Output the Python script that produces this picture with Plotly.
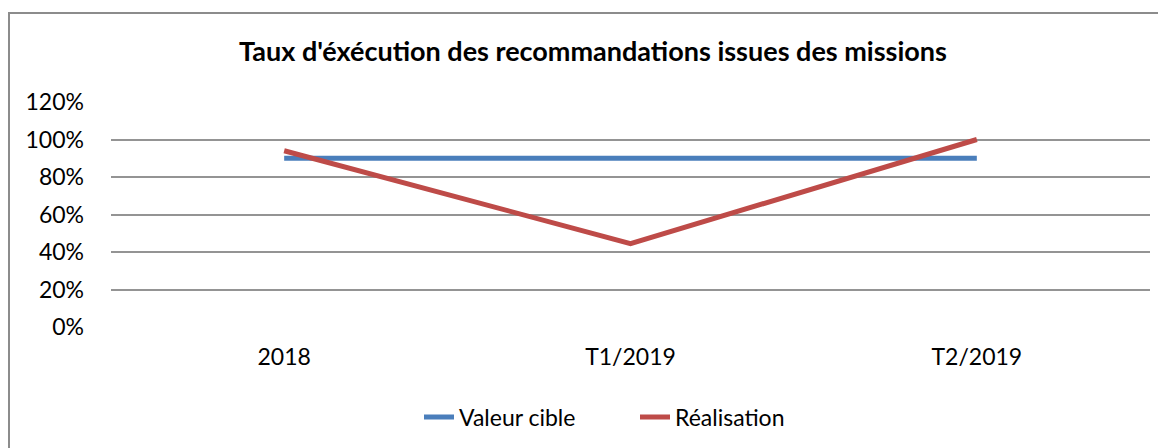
import plotly.graph_objects as go

categories = ["2018", "T1/2019", "T2/2019"]
valeur_cible = [0.90, 0.90, 0.90]
realisation = [0.94, 0.445, 1.00]
y_ticks = [0, 0.2, 0.4, 0.6, 0.8, 1.0, 1.2]
y_tick_labels = ["0%", "20%", "40%", "60%", "80%", "100%", "120%"]

FONT = "Lato, 'Open Sans', sans-serif"
OFF = 8  # page body margin
W, H = 1166, 448
# desired page-pixel positions from reference
PL, PR, PT, PB = 111, 1150, 102, 327
L = PL - OFF
T = PT - OFF
R = W - (PR - OFF)
B = H - (PB - OFF)
PW, PH = W - L - R, H - T - B


def px_x(p):
    return (p - OFF - L) / PW


def px_y(p):
    return (PB - p) / PH


fig = go.Figure()
fig.add_trace(go.Scatter(x=categories, y=valeur_cible, name="Valeur cible", mode="lines",
                         line=dict(color="#4a7ebb", width=5)))
fig.add_trace(go.Scatter(x=categories, y=realisation, name="Réalisation", mode="lines",
                         line=dict(color="#be4b48", width=5)))

# chart border (top and left visible)
fig.add_shape(type="rect", xref="paper", yref="paper",
              x0=px_x(9), x1=px_x(1200), y0=px_y(480), y1=px_y(13),
              line=dict(color="#8c8c8c", width=2), fillcolor="rgba(0,0,0,0)", layer="below")

fig.update_layout(
    width=W, height=H,
    margin=dict(l=L, r=R, t=T, b=B),
    paper_bgcolor="white", plot_bgcolor="white",
    font=dict(family=FONT, color="#000000", size=23),
    title=dict(text="<b>Taux d'éxécution des recommandations issues des missions</b>",
               x=(593 - OFF) / W, xanchor="center", xref="container",
               y=1 - (52 - OFF) / H, yanchor="middle", yref="container",
               font=dict(family=FONT, size=27, color="#000000")),
    showlegend=True,
    legend=dict(orientation="h", x=px_x(419), xanchor="left",
                y=px_y(417), yanchor="middle", font=dict(family=FONT, size=23),
                entrywidth=171, entrywidthmode="pixels", tracegroupgap=0),
    xaxis=dict(type="category", range=[-0.5, 2.5], showgrid=False, zeroline=False,
               showline=False, ticks="", ticklabelstandoff=14,
               tickfont=dict(family=FONT, size=23)),
    yaxis=dict(range=[0, 1.2], tickvals=y_ticks, ticktext=y_tick_labels,
               showgrid=True, gridcolor="#949494", gridwidth=2, zeroline=False,
               showline=False, ticks="", ticklabelstandoff=26,
               tickfont=dict(family=FONT, size=23)),
)

fig.write_html("out.html")
